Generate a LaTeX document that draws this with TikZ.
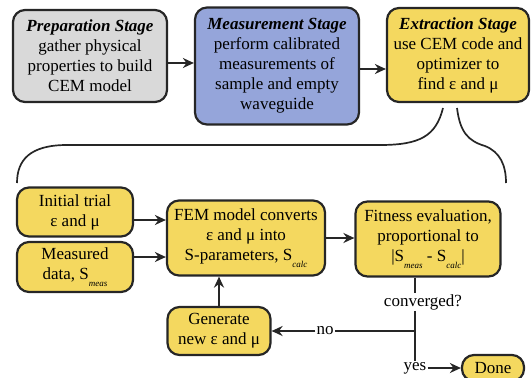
\documentclass[tikz,border=0pt]{standalone}
\usepackage{fontspec}
\setmainfont{Liberation Serif}
\usetikzlibrary{arrows.meta}
\definecolor{prepgray}{HTML}{D9D9D9}
\definecolor{measblue}{HTML}{95A5DA}
\definecolor{extryellow}{HTML}{F4D85F}
\definecolor{edge}{HTML}{262626}
\newcommand\subtxt[1]{\raisebox{-0.45em}{\fontsize{9}{9}\selectfont\itshape #1}}
\begin{document}
\begin{tikzpicture}[x = 1pt, y = -1pt,
		box/.style = {draw = edge, line width = 2.2pt, rounded corners = 12pt, align = center, inner sep = 2pt,
			font = \fontsize{17}{20}\selectfont},
		lbl/.style = {inner sep = 1pt, font = \fontsize{17}{20}\selectfont},
		arr/.style = {line width = 2pt, draw = edge, -{Stealth[length = 11pt, width = 10pt]}},
		ln/.style = {line width = 2pt, draw = edge}]
					\useasboundingbox (0,0) rectangle (532,377);
					\node[box, fill = prepgray, minimum width = 154pt, minimum height = 92pt] (prep) at (90,56)
						{\textbf{\textit{Preparation Stage}}\\gather physical\\properties to build\\CEM model};
					\node[box, fill = measblue, minimum width = 164pt, minimum height = 117pt] (meas) at (277,66)
						{\textbf{\textit{Measurement Stage}}\\perform calibrated\\measurements of\\sample and empty\\waveguide};
					\node[box, fill = extryellow, minimum width = 142pt, minimum height = 94pt] (extr) at (458,55)
						{\textbf{\textit{Extraction Stage}}\\use CEM code and\\optimizer to\\find ε and μ};
					\draw[arr] ([yshift = -7pt]prep.east) coordinate (p1) -- (p1 -| meas.west);
					\draw[arr] ([yshift = -3pt]meas.east) coordinate (p2) -- (p2 -| extr.west);
					\draw[ln, line width = 1.7pt] (443,108) .. controls (436,136) and (420,145) .. (380,145) -- (67,145)
						.. controls (30,145) and (17,160) .. (17,183);
					\draw[ln, line width = 1.7pt] (457,108) .. controls (460,132) and (468,141) .. (485,146)
						.. controls (500,152) and (506,165) .. (506,183);
					\node[box, fill = extryellow, minimum width = 116pt, minimum height = 49pt] (init) at (75,212)
						{Initial trial\\ε and μ};
					\node[box, fill = extryellow, minimum width = 116pt, minimum height = 50pt] (data) at (75,267)
						{Measured\\data, S\subtxt{meas}};
					\node[box, fill = extryellow, minimum width = 158pt, minimum height = 75pt] (fem) at (246,238)
						{FEM model converts\\ε and μ into\\S-parameters, S\subtxt{calc}};
					\node[box, fill = extryellow, minimum width = 145pt, minimum height = 75pt] (fit) at (428,239)
						{Fitness evaluation,\\proportional to\\|S\subtxt{meas}\ -\ S\subtxt{calc}|};
					\node[box, fill = extryellow, minimum width = 103pt, minimum height = 48pt] (gen) at (219,331)
						{Generate\\new ε and μ};
					\node[box, fill = extryellow, minimum width = 62pt, minimum height = 26pt] (done) at (493,368) {Done};
					\node[lbl] (conv) at (423,302) {converged?};
					\node[lbl] (no) at (325,331) {no};
					\node[lbl] (yes) at (415,368) {yes};
					\draw[arr] ([yshift = -8pt]init.east) coordinate (p3) -- (p3 -| fem.west);
					\draw[arr] ([yshift = 10pt]data.east) coordinate (p4) -- (p4 -| fem.west);
					\draw[arr] (fem.east) -- (fem.east -| fit.west);
					\draw[arr] (gen.north) -- (gen.north |- fem.south);
					\draw[ln] (yes.north |- fit.south) -- (yes.north |- conv.north);
					\draw[ln] (yes.north |- conv.south) -- (yes.north);
					\draw[ln] (yes.north |- no) -- (no.east);
					\draw[arr] (no.west) -- (gen.east);
					\draw[arr] (yes.east) -- (done.west);
				\end{tikzpicture}
\end{document}
